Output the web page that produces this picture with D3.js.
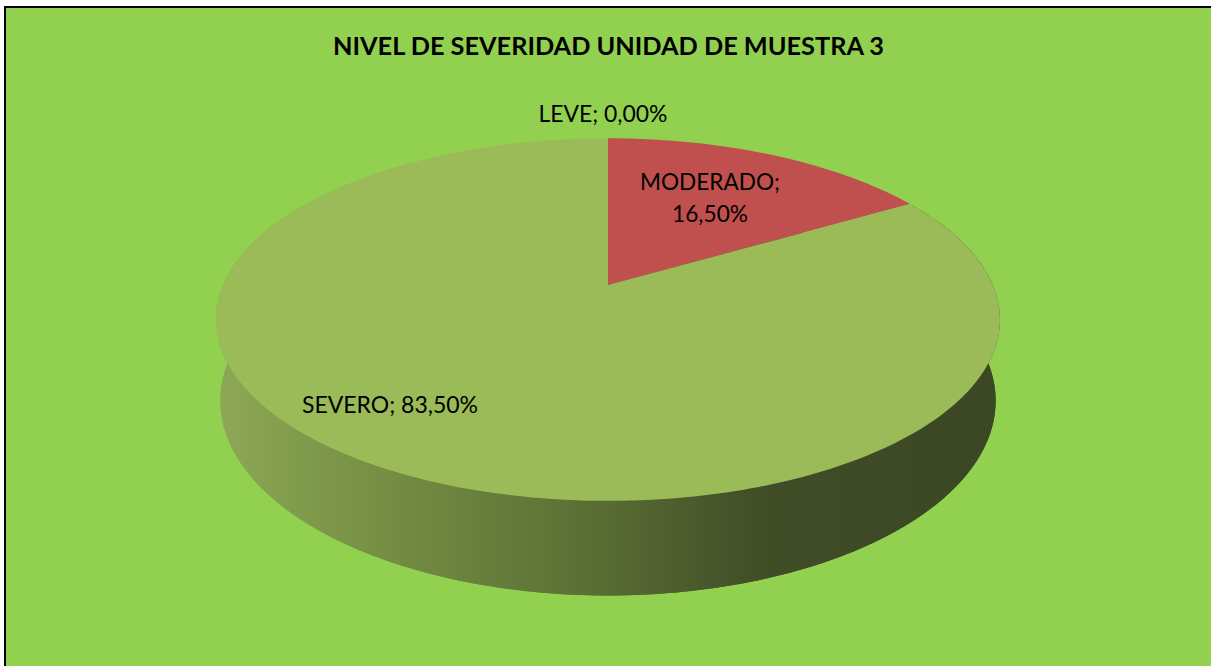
<!DOCTYPE html>
<html>
<head>
<meta charset="utf-8">
<script src="https://cdn.jsdelivr.net/npm/d3@7"></script>
<style>
  html, body { margin: 0; padding: 0; background: #ffffff; }
  svg { display: block; }
</style>
</head>
<body>
<script>
// ---- data ----
const categories = ["LEVE", "MODERADO", "SEVERO"];
const values = [0.0, 16.5, 83.5];
const valueLabels = ["0,00%", "16,50%", "83,50%"];
const sliceColors = ["#4F81BD", "#C0504D", "#9BBB59"];
const chartTitle = "NIVEL DE SEVERIDAD UNIDAD DE MUESTRA 3";

// ---- layout ----
const W = 1211, H = 666;
const svg = d3.select("body").append("svg").attr("width", W).attr("height", H);

// chart area with black border (extends past the viewport on right/bottom)
svg.append("rect").attr("x", 5).attr("y", 7).attr("width", W + 20).attr("height", H + 20)
  .attr("fill", "#92D050").attr("stroke", "#000").attr("stroke-width", 2);

// perspective projection of a horizontal disc
const cam = { cx: 608, cy: 285, f: 1798, D: 1, R: 0.214, alpha: 27 * Math.PI / 180, depth: 0.0505, bottomScale: 1.012 };
function proj(theta, rFrac, h) {
  const r = cam.R * rFrac;
  const u = r * Math.sin(theta);
  const w = -r * Math.cos(theta);
  const sa = Math.sin(cam.alpha), ca = Math.cos(cam.alpha);
  const xc = u, yc = w * sa - h * ca, zc = cam.D - w * ca - h * sa;
  return [cam.cx + cam.f * xc / zc, cam.cy + cam.f * yc / zc];
}

const pie = d3.pie().sort(null).value(d => d)(values);
const line = d3.line();
function arcPts(a0, a1, rFrac, h) {
  const pts = [];
  const steps = Math.max(2, Math.ceil(Math.abs(a1 - a0) / (Math.PI / 180)));
  for (let i = 0; i <= steps; i++) pts.push(proj(a0 + (a1 - a0) * i / steps, rFrac, h));
  return pts;
}

// gradient for the side wall
const defs = svg.append("defs");
const grad = defs.append("linearGradient").attr("id", "wallGrad")
  .attr("gradientUnits", "userSpaceOnUse").attr("x1", 216).attr("x2", 1000).attr("y1", 0).attr("y2", 0);
[[0, "#8DA855"], [0.25, "#718A41"], [0.5, "#586B33"], [0.7, "#404D27"], [1, "#3B4724"]]
  .forEach(([o, c]) => grad.append("stop").attr("offset", o).attr("stop-color", c));

const g = svg.append("g");
const Hd = -cam.depth;

// bottom disc (covers silhouette)
g.append("path").attr("d", line(arcPts(0, 2 * Math.PI, cam.bottomScale, Hd)) + "Z").attr("fill", "url(#wallGrad)");
// front wall
const a0 = Math.PI / 3, a1 = 5 * Math.PI / 3;
const wall = arcPts(a0, a1, 1, 0).concat(arcPts(a1, a0, cam.bottomScale, Hd));
g.append("path").attr("d", line(wall) + "Z").attr("fill", "url(#wallGrad)");

// top surface slices
pie.forEach((p, i) => {
  if (p.endAngle - p.startAngle <= 0) return;
  const pts = [proj(0, 0, 0)].concat(arcPts(p.startAngle, p.endAngle, 1, 0));
  g.append("path").attr("d", line(pts) + "Z").attr("fill", sliceColors[i]);
});

// ---- text ----
const fontFam = "Lato, 'Open Sans', 'Liberation Sans', sans-serif";
function fitText(sel, targetW) {
  const base = 20;
  sel.attr("font-size", base);
  const w = sel.node().getComputedTextLength();
  sel.attr("font-size", base * targetW / w);
  return sel;
}

const title = svg.append("text").attr("x", 608.5).attr("y", 55).attr("text-anchor", "middle")
  .attr("font-family", fontFam).attr("font-weight", "bold").attr("fill", "#000").text(chartTitle);
fitText(title, 551);

// label placements (screen anchors per category)
const labelLayout = [
  { lines: [categories[0] + "; " + valueLabels[0]], x: 603, y: [122], w: [129] },
  { lines: [categories[1] + ";", valueLabels[1]], x: 710, y: [190, 222], w: [140, 76] },
  { lines: [categories[2] + "; " + valueLabels[2]], x: 390, y: [413], w: [176] }
];
labelLayout.forEach(L => {
  L.lines.forEach((t, j) => {
    const s = svg.append("text").attr("x", L.x).attr("y", L.y[j]).attr("text-anchor", "middle")
      .attr("font-family", fontFam).attr("fill", "#000").text(t);
    fitText(s, L.w[j]);
  });
});
</script>
</body>
</html>
